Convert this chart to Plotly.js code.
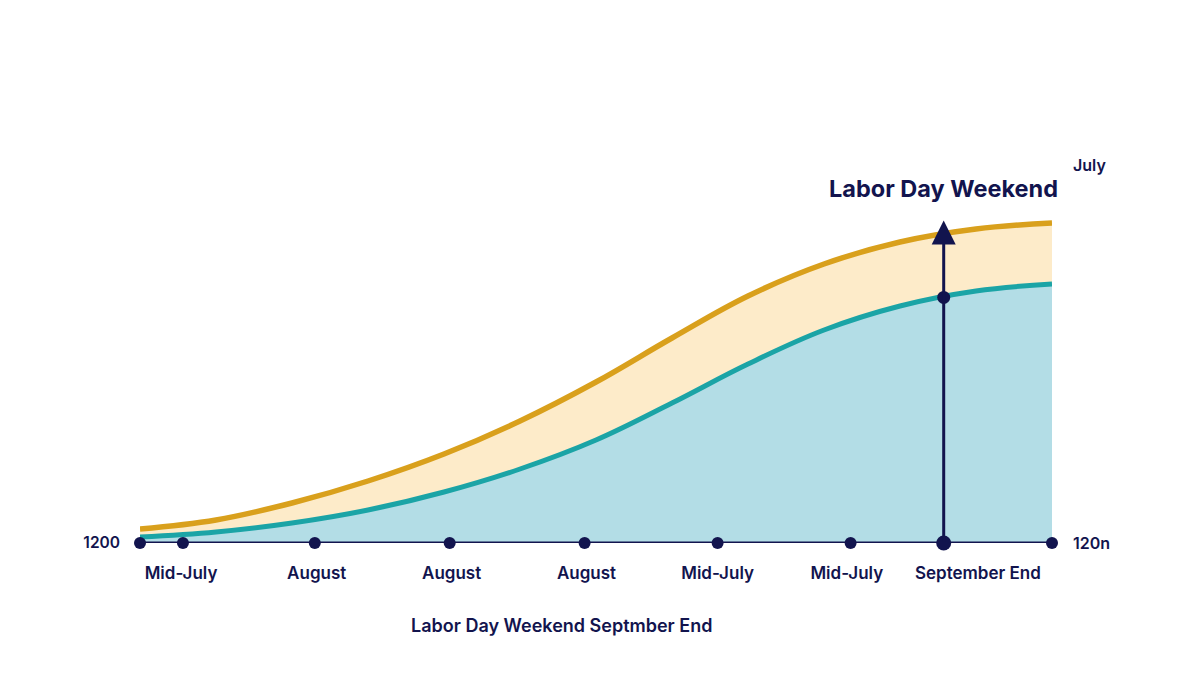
<!DOCTYPE html>
<html>
<head>
<meta charset="utf-8">
<script src="https://cdn.plot.ly/plotly-3.0.1.min.js"></script>
<style>
  html, body { margin: 0; padding: 0; background: #fff; }
  #chart { width: 1200px; height: 675px; }
</style>
</head>
<body>
<div id="chart"></div>
<script>
// days since mid-July, every 4 days
var days = [0, 4, 8, 12, 16, 20, 24, 28, 32, 36, 40, 44, 48];
var upperBand = [14, 23, 40, 62, 89, 122, 161, 205, 247, 279, 301, 314, 320];
var lowerBand = [6, 11, 20, 33, 51, 74, 103, 140, 179, 213, 237, 252, 259];

var axisDots = [0, 2.26, 9.2, 16.3, 23.4, 30.4, 37.4, 42.3, 48];
var tickDays = [2.16, 9.3, 16.4, 23.5, 30.4, 37.2, 44.1];
var tickNames = ["Mid-July", "August", "August", "August", "Mid-July", "Mid-July", "September End"];

var laborDay = 42.3;
var navy = "#12144e";

// linear lookup between the sampled days
function valueAt(xs, ys, x) {
  for (var i = 0; i < xs.length - 1; i++) {
    if (x >= xs[i] && x <= xs[i + 1]) {
      var t = (x - xs[i]) / (xs[i + 1] - xs[i]);
      return ys[i] + t * (ys[i + 1] - ys[i]);
    }
  }
  return ys[ys.length - 1];
}

var traces = [
  {
    x: days, y: lowerBand, type: "scatter", mode: "lines",
    line: {color: "#1ba4a6", width: 5, shape: "spline", smoothing: 1.1},
    fill: "tozeroy", fillcolor: "#b3dde6",
    hoverinfo: "skip", cliponaxis: false
  },
  {
    x: days, y: upperBand, type: "scatter", mode: "lines",
    line: {color: "#d9a01c", width: 5.5, shape: "spline", smoothing: 1.1},
    fill: "tonexty", fillcolor: "#fdebc9",
    hoverinfo: "skip", cliponaxis: false
  },
  {
    // baseline with dots
    x: axisDots, y: axisDots.map(function () { return 0; }),
    type: "scatter", mode: "lines+markers",
    line: {color: navy, width: 3},
    marker: {
      color: navy, opacity: 1, line: {width: 0},
      size: axisDots.map(function (d) { return d === laborDay ? 15 : 12; })
    },
    hoverinfo: "skip", cliponaxis: false
  },
  {
    // labor day marker on the lower band
    x: [laborDay], y: [valueAt(days, lowerBand, laborDay)],
    type: "scatter", mode: "markers",
    marker: {color: navy, size: 13, opacity: 1},
    hoverinfo: "skip", cliponaxis: false
  },
  {
    // keeps the right axis alive
    x: [0], y: [0], yaxis: "y2", type: "scatter", mode: "lines",
    line: {width: 0}, hoverinfo: "skip"
  }
];

var tickFont = {family: "Inter, Roboto, sans-serif", size: 17, color: navy, weight: 600};

var layout = {
  width: 1200,
  height: 675,
  paper_bgcolor: "#ffffff",
  plot_bgcolor: "#ffffff",
  showlegend: false,
  margin: {l: 140, r: 148, t: 143, b: 132},
  xaxis: {
    range: [0, 48],
    showgrid: false, zeroline: false, showline: false,
    tickvals: tickDays, ticktext: tickNames,
    ticks: "", ticklabelstandoff: 18,
    tickfont: tickFont
  },
  yaxis: {
    range: [0, 400],
    showgrid: false, zeroline: false, showline: false,
    tickvals: [0], ticktext: ["1200"], ticks: "",
    ticklabelstandoff: 19,
    tickfont: {family: "Inter, Roboto, sans-serif", size: 15.5, color: navy, weight: 600}
  },
  yaxis2: {
    overlaying: "y", side: "right",
    range: [0, 400],
    showgrid: false, zeroline: false, showline: false,
    tickvals: [0, 378], ticktext: ["120n", "July"], ticks: "",
    ticklabelstandoff: 20,
    tickfont: {family: "Inter, Roboto, sans-serif", size: 16, color: navy, weight: 600}
  },
  annotations: [
    {
      x: laborDay, y: valueAt(days, upperBand, laborDay) + 14,
      ax: laborDay, ay: 0, xref: "x", yref: "y", axref: "x", ayref: "y",
      showarrow: true, arrowhead: 2, arrowsize: 1.6, arrowwidth: 3,
      arrowcolor: navy, text: ""
    },
    {
      x: laborDay, y: 355, xref: "x", yref: "y",
      text: "Labor Day Weekend", showarrow: false,
      font: {family: "Inter, Roboto, sans-serif", size: 23.5, color: navy, weight: 700}
    },
    {
      x: 22.2, y: -(625 - 543) / (675 - 143 - 132), xref: "x", yref: "paper",
      yanchor: "middle",
      text: "Labor Day Weekend Septmber End", showarrow: false,
      font: {family: "Inter, Roboto, sans-serif", size: 18, color: navy, weight: 600}
    }
  ]
};

Plotly.newPlot("chart", traces, layout, {displayModeBar: false, staticPlot: true});
</script>
</body>
</html>
